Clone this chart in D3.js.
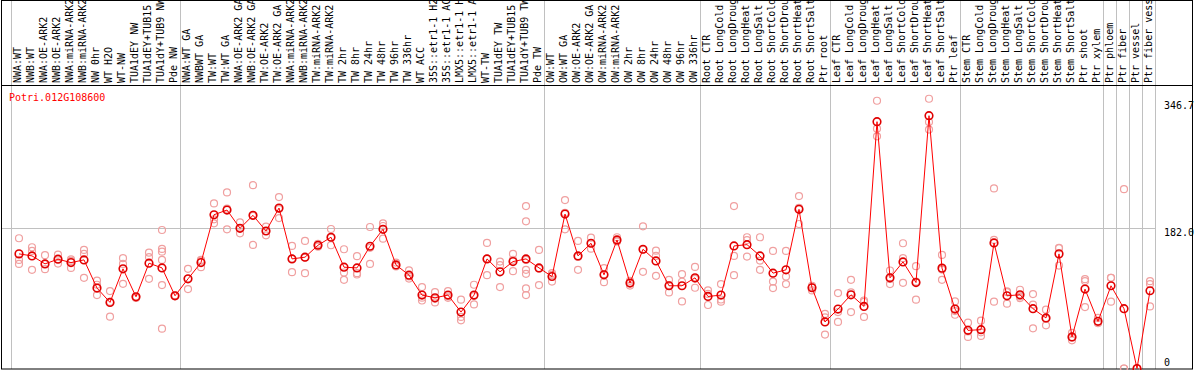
<!DOCTYPE html>
<html>
<head>
<meta charset="utf-8">
<script src="https://cdn.jsdelivr.net/npm/d3@7"></script>
<style>
  body { margin: 0; background: #fff; }
  text { font-family: "DejaVu Sans Mono", monospace; font-size: 10px; }
</style>
</head>
<body>
<script>
"use strict";

// gene shown in the chart
var geneId = "Potri.012G108600";

// sample names, one per column
var samples = [
  "NWA:WT", "NWB:WT", "NWA:OE-ARK2", "NWB:OE-ARK2", "NWA:miRNA-ARK2", "NWB:miRNA-ARK2",
  "NW 0hr", "WT H2O", "WT-NW", "TUA1dEY NW", "TUA1dEY+TUB15 NW", "TUA1dY+TUB9 NW", "Pde NW",
  "NWA:WT GA", "NWBWT GA", "TW:WT", "TW:WT GA", "NWA:OE-ARK2 GA", "NWB:OE-ARK2 GA",
  "TW:OE-ARK2", "TW:OE-ARK2 GA", "NWA:miRNA-ARK2", "NWB:miRNA-ARK2", "TW:miRNA-ARK2",
  "TW:miRNA-ARK2", "TW 2hr", "TW 8hr", "TW 24hr", "TW 48hr", "TW 96hr", "TW 336hr",
  "WT ACC", "35S::etr1-1 H2O", "35S::etr1-1 ACC", "LMX5::etr1-1 H2O", "LMX5::etr1-1 ACC",
  "WT-TW", "TUA1dEY TW", "TUA1dEY+TUB15 TW", "TUA1dY+TUB9 TW", "Pde TW",
  "OW:WT", "OW:WT GA", "OW:OE-ARK2", "OW:OE-ARK2 GA", "OW:miRNA-ARK2", "OW:miRNA-ARK2",
  "OW 2hr", "OW 8hr", "OW 24hr", "OW 48hr", "OW 96hr", "OW 336hr",
  "Root CTR", "Root LongCold", "Root LongDrought", "Root LongHeat", "Root LongSalt",
  "Root ShortCold", "Root ShortDrought", "Root ShortHeat", "Root ShortSalt", "Ptr root",
  "Leaf CTR", "Leaf LongCold", "Leaf LongDrought", "Leaf LongHeat", "Leaf LongSalt",
  "Leaf ShortCold", "Leaf ShortDrought", "Leaf ShortHeat", "Leaf ShortSalt", "Ptr leaf",
  "Stem CTR", "Stem LongCold", "Stem LongDrought", "Stem LongHeat", "Stem LongSalt",
  "Stem ShortCold", "Stem ShortDrought", "Stem ShortHeat", "Stem ShortSalt",
  "Ptr shoot", "Ptr xylem", "Ptr phloem", "Ptr fiber", "Ptr vessel", "Ptr fiber vessel"
];

// mean expression per sample
var means = [
  148.8, 146.2, 135.8, 141.9, 137.5, 141.0, 104.4, 85.8, 129.4, 93.1, 136.7, 130.6, 94.4,
  116.4, 137.5, 199.6, 205.7, 182.0, 198.8, 178.5, 208.3, 142.3, 144.5, 160.0, 170.4,
  131.5, 130.6, 158.7, 180.7, 134.5, 121.2, 95.3, 91.8, 95.3, 73.3, 95.3, 142.3, 125.5,
  138.8, 142.3, 130.6, 119.4, 200.5, 146.2, 162.6, 121.6, 166.9, 110.9, 154.8, 139.7,
  107.4, 107.4, 117.7, 93.5, 95.3, 159.1, 160.8, 146.2, 123.8, 128.1, 206.6, 104.8,
  60.4, 77.2, 95.7, 80.6, 320.4, 117.7, 138.4, 111.6, 328.2, 130.3, 77.2, 49.5, 50.4,
  163.0, 94.4, 95.7, 77.6, 65.6, 148.8, 41.0, 103.1, 61.2, 107.4, 77.6, 0, 100.9
];

// individual replicate values per sample
var replicates = [
  [169.1, 141.0, 135.8], [157.4, 152.6, 128.1], [147.1, 129.0, 135.8], [147.8, 136.2, 141.9],
  [139.7, 130.6, 141.6], [153.9, 148.8, 117.7], [114.2, 108.7, 95.3], [100.5, 86.6, 67.3],
  [143.2, 135.8, 109.9], [93.1, 92.5, 91.5], [150.4, 144.5, 116.4],
  [179.8, 155.2, 151.7, 141.0, 108.3, 51.7], [94.4, 95.0, 93.8],
  [129.4, 103.1, 116.5], [141.0, 131.5, 140.0], [214.3, 193.6, 188.5], [228.6, 180.7, 207.5],
  [189.8, 175.5, 182.0], [238.0, 160.4, 198.0], [184.1, 172.9, 178.5], [222.5, 195.3, 207.0],
  [159.1, 125.1, 142.7], [165.6, 123.8, 144.0], [158.2, 160.0, 161.8], [181.1, 160.0, 170.0],
  [154.8, 124.6, 115.1], [145.8, 123.8, 122.0], [183.7, 135.8, 156.6], [188.5, 168.5, 185.0],
  [137.5, 133.6, 132.4], [119.4, 116.8, 127.4], [105.7, 88.3, 91.9], [99.2, 85.8, 90.4],
  [100.5, 91.8, 93.6], [89.3, 66.9, 62.5], [108.7, 83.2, 94.0], [163.0, 121.2, 142.7],
  [138.8, 134.1, 105.7], [148.8, 126.4, 141.2],
  [210.8, 191.1, 141.0, 128.1, 122.9, 103.9, 95.3], [153.9, 108.3, 129.6],
  [121.6, 112.9, 123.7], [218.6, 180.7, 202.2], [165.6, 128.1, 144.9], [169.8, 155.6, 162.4],
  [130.3, 112.1, 122.4], [170.4, 165.0, 165.3], [113.8, 107.7, 111.2], [184.6, 125.5, 154.3],
  [153.0, 146.2, 120.3], [115.1, 98.7, 108.4], [122.5, 87.1, 112.6], [131.9, 104.8, 116.4],
  [101.3, 82.4, 96.8], [109.6, 86.7, 89.6], [210.8, 146.2, 121.2], [170.4, 145.3, 166.7],
  [170.4, 128.1, 140.1], [152.6, 112.9, 104.4], [152.6, 119.4, 109.6], [223.8, 187.6, 208.4],
  [107.4, 101.3, 105.7], [70.8, 44.0, 66.4], [97.9, 60.4, 73.3], [115.1, 73.3, 98.7],
  [88.3, 66.9, 86.6], [347.6, 311.3, 301.4], [127.2, 109.6, 116.3], [162.6, 143.2, 111.2],
  [132.8, 89.3, 112.7], [350.2, 320.0, 310.1], [147.5, 115.1, 128.4], [87.1, 69.8, 74.6],
  [59.5, 41.0, 48.0], [62.1, 42.3, 46.9], [233.7, 166.9, 86.7], [100.0, 84.1, 99.1],
  [102.2, 93.5, 91.4], [96.6, 82.8, 52.1], [76.3, 56.0, 64.5], [156.1, 133.6, 156.7],
  [46.2, 36.6, 40.2], [116.0, 79.8, 113.5], [65.6, 59.0, 59.0], [117.7, 86.7, 117.8],
  [232.8, 0, 0], [0, 0, 0], [113.4, 109.6, 80.6]
];

// columns where a new sample group starts (vertical separators)
var groupStarts = [0, 13, 41, 53, 63, 73, 84, 85, 86, 87, 88];

// value labels on the right
var yTicks = [0, 182.0, 346.7];
var gridValues = [182.0];

var W = 1194, H = 370;
var labelBottom = 85, plotBottom = 369;

var svg = d3.select("body").append("svg")
    .attr("width", W)
    .attr("height", H);

var xScale = d3.scaleLinear()
    .domain([0, samples.length - 1])
    .range([19, 19 + 13 * (samples.length - 1)]);

var yScale = d3.scaleLinear()
    .domain([0, 182])
    .range([368.5, 228.3]);

// vertical separators, through labels and plot
svg.append("g").selectAll("line")
  .data(groupStarts)
  .enter().append("line")
    .attr("x1", function(d) { return Math.round(xScale(d) - 8) + 0.5; })
    .attr("x2", function(d) { return Math.round(xScale(d) - 8) + 0.5; })
    .attr("y1", 0)
    .attr("y2", plotBottom)
    .attr("stroke", "#c0c0c0");

// horizontal grid line
svg.append("g").selectAll("line")
  .data(gridValues)
  .enter().append("line")
    .attr("x1", 1)
    .attr("x2", xScale(88) - 8)
    .attr("y1", function(d) { return Math.round(yScale(d)) + 0.5; })
    .attr("y2", function(d) { return Math.round(yScale(d)) + 0.5; })
    .attr("stroke", "#c0c0c0");

// frame
svg.append("rect")
    .attr("x", 1.5).attr("y", 0.5)
    .attr("width", W - 3).attr("height", plotBottom - 0.5)
    .attr("fill", "none").attr("stroke", "#000");
svg.append("line")
    .attr("x1", 1).attr("x2", W - 1)
    .attr("y1", labelBottom + 0.5).attr("y2", labelBottom + 0.5)
    .attr("stroke", "#000");

// sample labels, rotated
svg.append("g").selectAll("text")
  .data(samples)
  .enter().append("text")
    .attr("transform", function(d, i) {
      return "translate(" + (xScale(i) + 2) + "," + (labelBottom - 2) + ") rotate(-90)";
    })
    .attr("fill", "#000")
    .text(function(d) { return d; });

// gene title
svg.append("text")
    .attr("x", 9)
    .attr("y", 100.5)
    .attr("fill", "#ff0000")
    .text(geneId);

// value labels on the right
svg.append("g").selectAll("text")
  .data(yTicks)
  .enter().append("text")
    .attr("x", 1164)
    .attr("y", function(d, i) {
      return d === 0 ? 366 : yScale(d) + 8;
    })
    .attr("fill", "#000")
    .text(function(d) { return d === 0 ? "0" : d.toFixed(1); });

// replicate circles
var reps = [];
replicates.forEach(function(r, i) {
  r.forEach(function(v) { reps.push({i: i, v: v}); });
});

svg.append("g").selectAll("circle")
  .data(reps)
  .enter().append("circle")
    .attr("cx", function(d) { return xScale(d.i); })
    .attr("cy", function(d) { return yScale(d.v); })
    .attr("r", 3.5)
    .attr("fill", "none")
    .attr("stroke", "#f0a0a0")
    .attr("stroke-width", 1.2);

// mean line
var line = d3.line()
    .x(function(d, i) { return xScale(i); })
    .y(function(d) { return yScale(d); });

svg.append("path")
    .datum(means)
    .attr("d", line)
    .attr("fill", "none")
    .attr("stroke", "#ff0000")
    .attr("stroke-width", 1);

// mean circles
svg.append("g").selectAll("circle")
  .data(means)
  .enter().append("circle")
    .attr("cx", function(d, i) { return xScale(i); })
    .attr("cy", function(d) { return yScale(d); })
    .attr("r", 3.8)
    .attr("fill", "none")
    .attr("stroke", "#e00000")
    .attr("stroke-width", 1.6);
</script>
</body>
</html>
